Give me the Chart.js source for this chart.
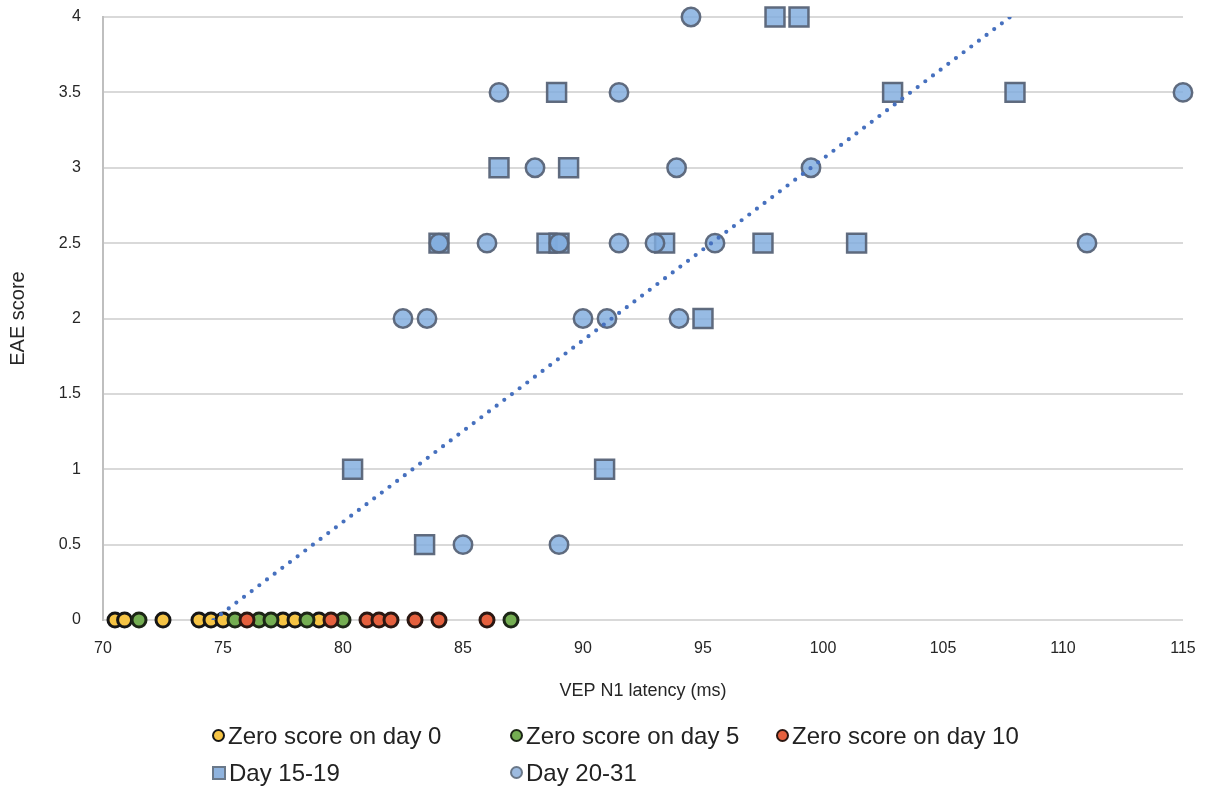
<!DOCTYPE html>
<html>
<head>
<meta charset="utf-8">
<script src="https://cdn.jsdelivr.net/npm/chart.js@4.4.1/dist/chart.umd.min.js"></script>
<style>
  html, body { margin: 0; padding: 0; background: #ffffff; }
  #wrap { position: relative; width: 1206px; height: 789px; }
  #c { position: absolute; left: 0; top: 0; }
  #legend {
    position: absolute; left: 212px; top: 720px;
    display: grid; grid-template-columns: 298px 266px auto;
    row-gap: 6px;
    font-family: "Liberation Sans", Arial, sans-serif; font-size: 24px; color: #222;
  }
  .item { display: flex; align-items: center; height: 31px; white-space: nowrap; }
  .mk { display: inline-block; box-sizing: border-box; margin-right: 3px; }
</style>
</head>
<body>
<div id="wrap">
  <canvas id="c" width="1206" height="789"></canvas>
  <div id="legend"></div>
</div>
<script>
// ---- data ----
const seriesNames = ["Zero score on day 0", "Zero score on day 5", "Zero score on day 10", "Day 15-19", "Day 20-31"];

const day0X = [70.5, 70.9, 72.5, 74.0, 74.5, 75.0, 77.5, 78.0, 79.0];
const day0Y = [0, 0, 0, 0, 0, 0, 0, 0, 0];

const day5X = [71.5, 75.5, 76.5, 77.0, 78.5, 80.0, 87.0];
const day5Y = [0, 0, 0, 0, 0, 0, 0];

const day10X = [76.0, 79.5, 81.0, 81.5, 82.0, 83.0, 84.0, 86.0];
const day10Y = [0, 0, 0, 0, 0, 0, 0, 0];

const day1519X = [98.0, 99.0, 88.9, 102.9, 108.0, 86.5, 89.4, 84.0, 88.5, 89.0, 93.4, 97.5, 101.4, 95.0, 80.4, 90.9, 83.4];
const day1519Y = [4, 4, 3.5, 3.5, 3.5, 3, 3, 2.5, 2.5, 2.5, 2.5, 2.5, 2.5, 2, 1, 1, 0.5];

const day2031X = [94.5, 86.5, 91.5, 115.0, 88.0, 93.9, 99.5, 84.0, 86.0, 89.0, 91.5, 93.0, 95.5, 111.0, 82.5, 83.5, 90.0, 91.0, 94.0, 85.0, 89.0];
const day2031Y = [4, 3.5, 3.5, 3.5, 3, 3, 3, 2.5, 2.5, 2.5, 2.5, 2.5, 2.5, 2.5, 2, 2, 2, 2, 2, 0.5, 0.5];

// linear trend line end points (as seen in the reference)
const trendX = [74.6, 107.8];
const trendY = [0, 4];

const xTicks = [70, 75, 80, 85, 90, 95, 100, 105, 110, 115];
const yTicks = [0, 0.5, 1, 1.5, 2, 2.5, 3, 3.5, 4];

// ---- helpers ----
const pts = (xs, ys) => xs.map((x, i) => ({ x: x, y: ys[i] }));

const styles = [
  { fill: "#F6C445", border: "#161616", shape: "circle", r: 7, bw: 3 },
  { fill: "#74AE52", border: "#1c2616", shape: "circle", r: 7, bw: 3 },
  { fill: "#E5603E", border: "#2b1712", shape: "circle", r: 7, bw: 3 },
  { fill: "rgba(128,172,222,0.82)", border: "rgba(88,100,120,0.95)", shape: "rect", r: 13.4, bw: 2.5 },
  { fill: "rgba(128,172,222,0.82)", border: "rgba(88,100,120,0.95)", shape: "circle", r: 9.2, bw: 2.5 }
];
const xs = [day0X, day5X, day10X, day1519X, day2031X];
const ys = [day0Y, day5Y, day10Y, day1519Y, day2031Y];

const datasets = seriesNames.map((name, i) => ({
  label: name,
  data: pts(xs[i], ys[i]),
  backgroundColor: styles[i].fill,
  borderColor: styles[i].border,
  borderWidth: styles[i].bw,
  pointStyle: styles[i].shape,
  pointRadius: styles[i].r,
  pointHoverRadius: styles[i].r,
  clip: false,
  order: 5 - i
}));

datasets.push({
  label: "trend",
  data: pts(trendX, trendY),
  showLine: true,
  borderColor: "#4670BE",
  borderWidth: 4.2,
  borderDash: [0, 9.6],
  borderCapStyle: "round",
  pointRadius: 0,
  fill: false,
  order: 0
});

const FONT = "'Liberation Sans', Arial, sans-serif";

new Chart(document.getElementById("c"), {
  type: "scatter",
  data: { datasets: datasets },
  options: {
    responsive: false,
    animation: false,
    events: [],
    layout: { autoPadding: false, padding: { left: 0, right: 23, top: 17, bottom: 87 } },
    plugins: { legend: { display: false }, tooltip: { enabled: false } },
    scales: {
      x: {
        type: "linear", min: 70, max: 115,
        afterBuildTicks: s => { s.ticks = xTicks.map(v => ({ value: v })); },
        afterFit: s => { s.height = 82; s.paddingRight = 0; s.paddingLeft = 0; },
        grid: { display: false, drawTicks: false },
        border: { display: false },
        ticks: { padding: 19, color: "#262626", font: { family: FONT, size: 16 },
                 callback: v => String(v) },
        title: { display: true, text: "VEP N1 latency (ms)", color: "#262626",
                 font: { family: FONT, size: 18 }, padding: { top: 0, bottom: 0 } }
      },
      y: {
        type: "linear", min: 0, max: 4,
        afterBuildTicks: s => { s.ticks = yTicks.map(v => ({ value: v })); },
        afterFit: s => { s.width = 103; s.paddingTop = 0; s.paddingBottom = 0; },
        grid: { color: "#d9d9d9", lineWidth: 2, drawTicks: false },
        border: { display: true, color: "#bfbfbf", width: 2 },
        ticks: { padding: 22, color: "#262626", font: { family: FONT, size: 16 },
                 callback: v => String(v) },
        title: { display: true, text: "EAE score", color: "#262626",
                 font: { family: FONT, size: 20 }, padding: { top: 6, bottom: 0 } }
      }
    }
  }
});

// ---- HTML legend built from the series ----
const legend = document.getElementById("legend");
seriesNames.forEach((name, i) => {
  const st = styles[i];
  const item = document.createElement("div");
  item.className = "item";
  const mk = document.createElement("span");
  mk.className = "mk";
  if (st.shape === "rect") {
    mk.style.cssText = "width:14px;height:14px;background:#8fb3de;border:2px solid #6a7889;";
  } else if (i === 4) {
    mk.style.cssText = "width:13px;height:13px;border-radius:50%;background:#9dbbe0;border:2px solid #6a7889;";
  } else {
    mk.style.cssText = "width:13px;height:13px;border-radius:50%;background:" + st.fill + ";border:2.5px solid " + st.border + ";";
  }
  item.appendChild(mk);
  item.appendChild(document.createTextNode(name));
  legend.appendChild(item);
});
</script>
</body>
</html>
